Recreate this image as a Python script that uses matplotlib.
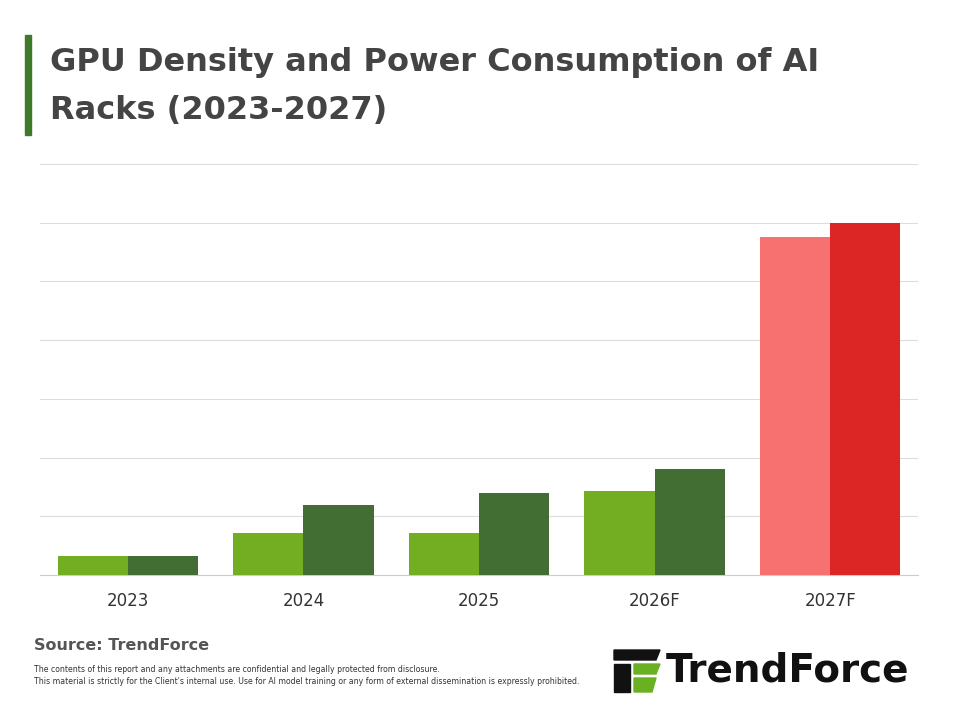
import matplotlib.pyplot as plt
import numpy as np
from matplotlib.patches import Rectangle, Polygon

years = ["2023", "2024", "2025", "2026F", "2027F"]
gpu_density = [0.32, 0.72, 0.72, 1.43, 5.76]
power = [0.32, 1.19, 1.40, 1.81, 6.0]

light = ["#73ad21"] * 4 + ["#f87171"]
dark = ["#426e33"] * 4 + ["#dc2626"]

plt.rcParams['font.family'] = ['DejaVu Sans']
fig = plt.figure(figsize=(9.6, 7.2), dpi=100)
ax = fig.add_axes([40/960, 1-575/720, 878/960, 411/720])

x = np.arange(len(years))
w = 0.4
ax.bar(x - w/2, gpu_density, w, color=light, zorder=3)
ax.bar(x + w/2, power, w, color=dark, zorder=3)
ax.set_xlim(-0.5, 4.5)
ax.set_ylim(0, 7)
ax.set_yticks(np.arange(0, 8))
ax.yaxis.grid(True, color="#dddddd", lw=0.8, zorder=0)
ax.tick_params(axis="y", left=False, labelleft=False)
ax.tick_params(axis="x", length=0, labelsize=12, colors="#333333", pad=12)
ax.set_xticks(x)
ax.set_xticklabels(years)
for s in ["left", "right", "top"]:
    ax.spines[s].set_visible(False)
ax.spines["bottom"].set_color("#cccccc")

# title
fig.patches.append(Rectangle((25/960, 1-135/720), 6/960, 100/720, transform=fig.transFigure,
                             color="#3f7a2a", figure=fig))
fig.text(50/960, 1-62/720, "GPU Density and Power Consumption of AI", fontsize=23,
         fontweight="bold", color="#444444", va="center")
fig.text(50/960, 1-110/720, "Racks (2023-2027)", fontsize=23,
         fontweight="bold", color="#444444", va="center")

# footer
fig.text(34/960, 1-645/720, "Source: TrendForce", fontsize=11.5, fontweight="bold",
         color="#555555", va="center")
fig.text(34/960, 1-669/720, "The contents of this report and any attachments are confidential and legally protected from disclosure.",
         fontsize=5.6, color="#333333", va="center")
fig.text(34/960, 1-681/720, "This material is strictly for the Client's internal use. Use for AI model training or any form of external dissemination is expressly prohibited.",
         fontsize=5.6, color="#333333", va="center")

# logo
def fp(px, py):
    return (px/960, 1-py/720)
fig.patches.append(Polygon([fp(614, 650), fp(660, 650), fp(656, 660), fp(614, 660)],
                           transform=fig.transFigure, color="#111111", figure=fig))
fig.patches.append(Polygon([fp(614, 664), fp(630, 664), fp(630, 692), fp(614, 692)],
                           transform=fig.transFigure, color="#111111", figure=fig))
fig.patches.append(Polygon([fp(634, 664), fp(660, 664), fp(656, 674), fp(634, 674)],
                           transform=fig.transFigure, color="#6ab023", figure=fig))
fig.patches.append(Polygon([fp(634, 678), fp(656, 678), fp(652, 692), fp(634, 692)],
                           transform=fig.transFigure, color="#6ab023", figure=fig))
fig.text(666/960, 1-671/720, "TrendForce", fontsize=28, fontweight="bold",
         color="#111111", va="center")

fig.savefig("out.png", dpi=100, facecolor="white")
